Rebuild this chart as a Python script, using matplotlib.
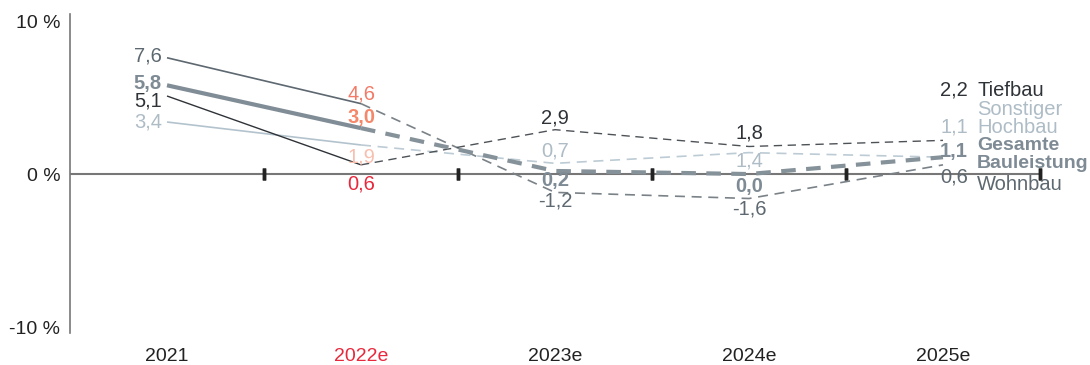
import matplotlib
matplotlib.use("Agg")
import matplotlib.pyplot as plt

plt.rcParams['font.family'] = ['Liberation Sans', 'DejaVu Sans']

years = ["2021", "2022e", "2023e", "2024e", "2025e"]
tiefbau = [5.1, 0.6, 2.9, 1.8, 2.2]
wohnbau = [7.6, 4.6, -1.2, -1.6, 0.6]
gesamt = [5.8, 3.0, 0.2, 0.0, 1.1]
sonstiger = [3.4, 1.9, 0.7, 1.4, 1.1]

def fmt(v):
    return f"{v:.1f}".replace(".", ",")

W, H = 1090, 365
FS = 14.5
fig = plt.figure(figsize=(W / 100, H / 100), dpi=100)
ax = fig.add_axes([70 / W, (H - 333) / H, 970 / W, 319 / H])
ax.set_xlim(-0.5, 4.5)
ax.set_ylim(-10.39, 10.46)
for s in ["top", "right", "bottom"]:
    ax.spines[s].set_visible(False)
ax.spines["left"].set_color("#777777")
ax.spines["left"].set_linewidth(1.2)

ax.axhline(0, color="#777777", lw=1.5, zorder=1)
for xt in [0.5, 1.5, 2.5, 3.5, 4.5]:
    ax.plot([xt, xt], [0, 0], marker="|", ms=8, mew=2.5, color="#222222", zorder=2, clip_on=False)

ax.set_yticks([-10, 0, 10])
ax.set_yticklabels(["-10 %", "0 %", "10 %"], fontsize=14, color="#222222")
ax.tick_params(axis="y", length=0, pad=7)
ax.set_xticks(range(5))
ax.set_xticklabels(years, fontsize=14)
ax.tick_params(axis="x", length=0, pad=11)
for i, t in enumerate(ax.get_xticklabels()):
    t.set_color("#e8283c" if i == 1 else "#222222")

x = list(range(5))
series = [
    # values, solid color, dashed color, lw
    (sonstiger, "#b3c3cd", "#bccbd4", 1.2),
    (wohnbau, "#5d6870", "#7a8288", 1.2),
    (tiefbau, "#2f3338", "#4d5257", 1.0),
    (gesamt, "#808d96", "#86929a", 3.0),
]
for vals, c_solid, c_dash, lw in series:
    ax.plot(x[:2], vals[:2], color=c_solid, lw=lw, solid_capstyle="butt", zorder=3)
    ax.plot(x[1:], vals[1:], color=c_dash, lw=lw, ls=(0, (6, 4)) if lw < 2 else (0, (3.5, 2.5)), zorder=3)

def lab(xi, v, dx, dy, color, bold, ha="center"):
    ax.annotate(fmt(v), (xi, v), xytext=(dx, dy), textcoords="offset pixels",
                ha=ha, va="center", fontsize=FS, color=color,
                fontweight="bold" if bold else "normal", annotation_clip=False)

# 2021 labels
lab(0, wohnbau[0], -5, 2, "#5d6870", False, ha="right")
lab(0, gesamt[0], -5, 2, "#7e8b95", True, ha="right")
lab(0, tiefbau[0], -5, -5, "#2f3338", False, ha="right")
lab(0, sonstiger[0], -5, 0, "#aebcc6", False, ha="right")
# 2022e labels
lab(1, wohnbau[1], 0, 10, "#f27a66", False)
lab(1, gesamt[1], 0, 11, "#f5876a", True)
lab(1, sonstiger[1], 0, -12, "#f8bfae", False)
lab(1, tiefbau[1], 0, -19, "#e8283c", False)
# 2023e labels
lab(2, tiefbau[2], 0, 12, "#2f3338", False)
lab(2, sonstiger[2], 0, 12, "#aebcc6", False)
lab(2, gesamt[2], 0, -10, "#7e8b95", True)
lab(2, wohnbau[2], 0, -9, "#5d6870", False)
# 2024e labels
lab(3, tiefbau[3], 0, 13, "#2f3338", False)
lab(3, sonstiger[3], 0, -8, "#aebcc6", False)
lab(3, gesamt[3], 0, -12, "#7e8b95", True)
lab(3, wohnbau[3], 0, -10, "#5d6870", False)

# 2025e right-side labels
def right(v, name_lines, vdy, color, bold, ndy):
    fw = "bold" if bold else "normal"
    fs = 14 if bold else FS
    ax.annotate(fmt(v), (4, v), xytext=(25, vdy), textcoords="offset pixels",
                ha="right", va="center", fontsize=FS, color=color, fontweight=fw,
                annotation_clip=False)
    for k, nm in enumerate(name_lines):
        ax.annotate(nm, (4, v), xytext=(34, ndy[k]), textcoords="offset pixels",
                    ha="left", va="center", fontsize=fs, color=color, fontweight=fw,
                    annotation_clip=False)

right(tiefbau[4], ["Tiefbau"], 50, "#2f3338", False, [50])
right(sonstiger[4], ["Sonstiger", "Hochbau"], 30, "#aebcc6", False, [48, 30])
right(gesamt[4], ["Gesamte", "Bauleistung"], 6, "#7e8b95", True, [12, -6])
right(wohnbau[4], ["Wohnbau"], -12, "#5d6870", False, [-20])

fig.savefig("out.png", dpi=100)
